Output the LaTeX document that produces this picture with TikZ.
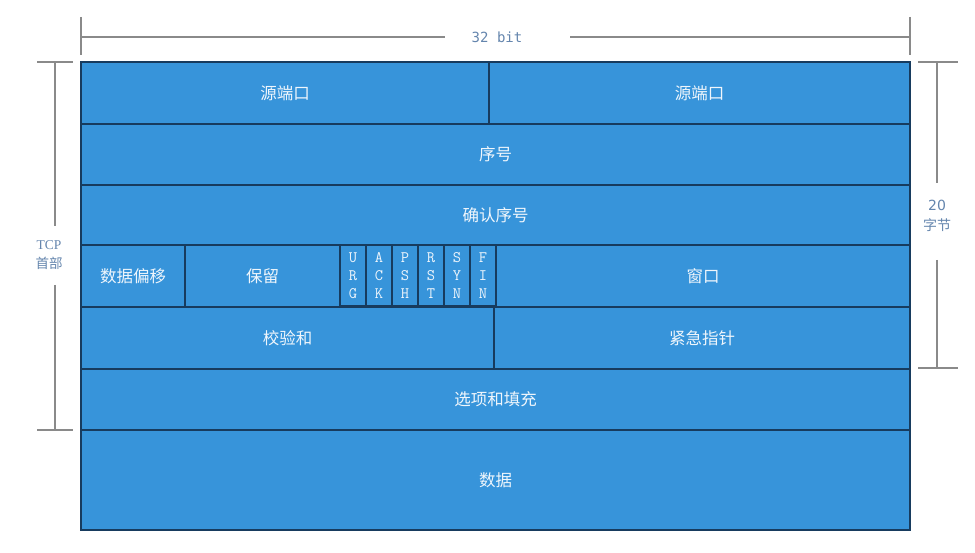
\documentclass[tikz,border=0pt]{standalone}
\usepackage{fontspec}
\newfontfamily\cjk{Noto Sans CJK SC}
\newfontfamily\dimf{DejaVu Sans Mono}
\newfontfamily\serf{Liberation Serif}
\newfontfamily\sanf{DejaVu Sans}
\definecolor{cellblue}{HTML}{3794DA}
\definecolor{celledge}{HTML}{173B5E}
\definecolor{dimline}{HTML}{8A8A8A}
\definecolor{dimtext}{HTML}{6485AD}
\begin{document}
\begin{tikzpicture}[x=1pt,y=-1pt,
  cell/.style={draw=celledge, line width=1.3pt, fill=cellblue, inner sep=0pt, outer sep=0pt,
    text=white!92!cellblue, font=\cjk\fontsize{16.5}{18}\selectfont},
  flag/.style={cell, font=\ttfamily\fontsize{16}{18}\selectfont, align=center, minimum width=26pt, minimum height=61pt},
  dim/.style={draw=dimline, line width=1.2pt},
  dimlabel/.style={text=dimtext, inner sep=1pt, align=center}]
\useasboundingbox (0,0) rectangle (975,553);
% row 1
\node[cell, minimum width=408pt, minimum height=62pt] (src1) at (285,93) {源端口};
\node[cell, minimum width=421pt, minimum height=62pt] (src2) at (699.5,93) {源端口};
% row 2
\node[cell, minimum width=829pt, minimum height=61pt] (seq) at (495.5,154.5) {序号};
% row 3
\node[cell, minimum width=829pt, minimum height=60pt] (ack) at (495.5,215) {确认序号};
% row 4
\node[cell, minimum width=104pt, minimum height=62pt] (off) at (133,276) {数据偏移};
\node[cell, minimum width=155pt, minimum height=62pt] (res) at (262.5,276) {保留};
\node[flag] (urg) at (353,275.5) {U\\R\\G};
\node[flag] (fack) at (379,275.5) {A\\C\\K};
\node[flag] (psh) at (405,275.5) {P\\S\\H};
\node[flag] (rst) at (431,275.5) {R\\S\\T};
\node[flag] (syn) at (457,275.5) {S\\Y\\N};
\node[flag] (fin) at (483,275.5) {F\\I\\N};
\node[cell, minimum width=414pt, minimum height=62pt] (win) at (703,276) {窗口};
% row 5
\node[cell, minimum width=413pt, minimum height=62pt] (chk) at (287.5,338) {校验和};
\node[cell, minimum width=416pt, minimum height=62pt] (urgp) at (702,338) {紧急指针};
% row 6
\node[cell, minimum width=829pt, minimum height=61pt] (opt) at (495.5,399.5) {选项和填充};
% row 7
\node[cell, minimum width=829pt, minimum height=100pt] (data) at (495.5,480) {数据};

% top dimension
\coordinate (tl) at (81,37);
\coordinate (tr) at (910,37);
\node[dimlabel, font=\dimf\fontsize{14}{16}\selectfont] (bits) at (497,37) {32 bit};
\draw[dim] (81,17) -- (81,55);
\draw[dim] (910,17) -- (910,55);
\draw[dim] (tl) -- (445,37);
\draw[dim] (570,37) -- (tr);

% left dimension
\node[dimlabel, font=\cjk\fontsize{13.5}{19}\selectfont] (tcp) at (49,255) {{\serf TCP}\\首部};
\coordinate (lt) at (55,62);
\coordinate (lb) at (55,430);
\draw[dim] (37,62) -- (73,62);
\draw[dim] (37,430) -- (73,430);
\draw[dim] (lt) -- (55,226);
\draw[dim] (55,285) -- (lb);

% right dimension
\node[dimlabel, font=\cjk\fontsize{14}{20}\selectfont] (bytes) at (937,216) {{\sanf 20}\\字节};
\coordinate (rt) at (937,62);
\coordinate (rb) at (937,368);
\draw[dim] (918,62) -- (958,62);
\draw[dim] (918,368) -- (958,368);
\draw[dim] (rt) -- (937,183);
\draw[dim] (937,260) -- (rb);
\end{tikzpicture}
\end{document}
